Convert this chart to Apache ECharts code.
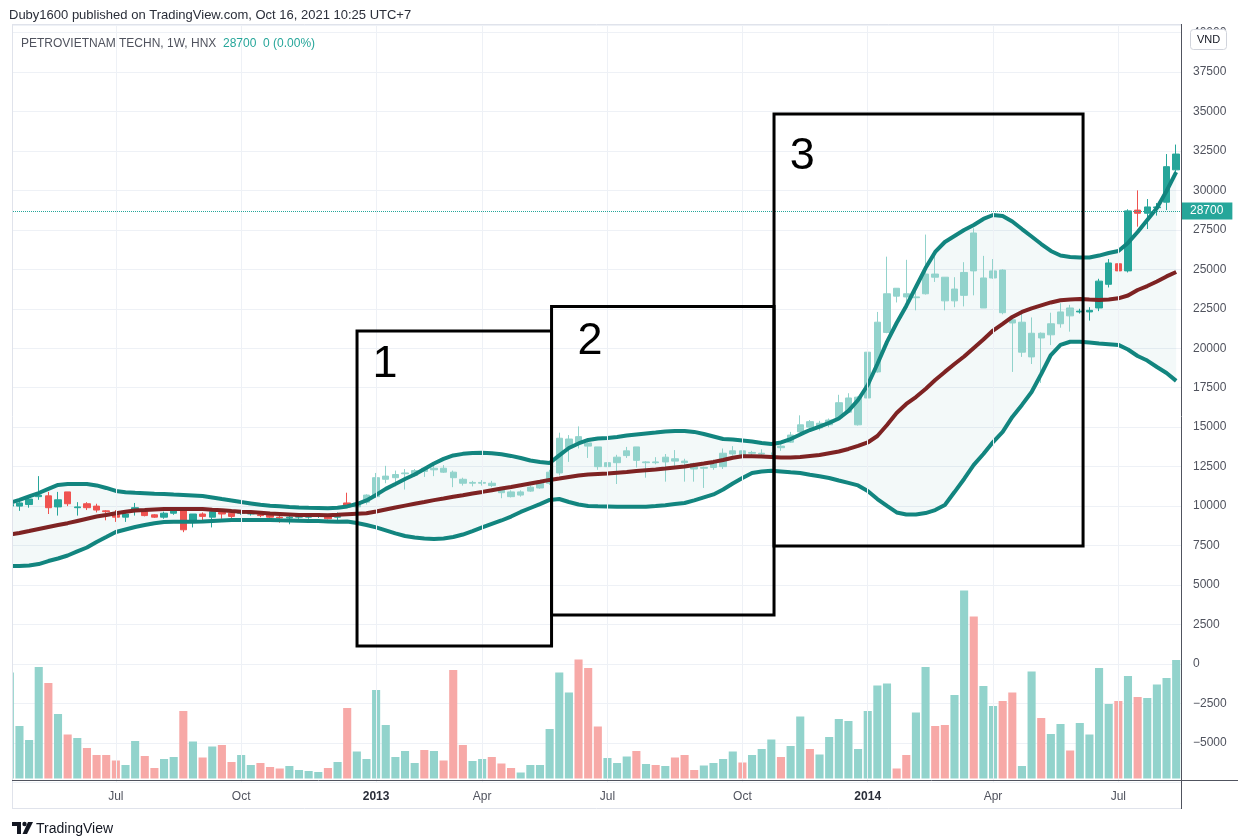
<!DOCTYPE html>
<html><head><meta charset="utf-8">
<script src="https://cdn.jsdelivr.net/npm/echarts@6/dist/echarts.min.js"></script>
<style>html,body{margin:0;padding:0;background:#fff}#c{width:1238px;height:838px}</style>
</head><body><div id="c"></div>
<script>
// ---------------- data ----------------
const firstWeek = '2012-04-16';
const closedWeeks = ['2013-02-11'];
const opens = [10000,10000,10100,10600,10650,9950,10900,9900,10150,10000, 9700,9450,9300,9700,9650,9450,9300,9550,9700,9100, 9500,9300,9600,9550,9550,9500,9450,9450,9300,9250, 9300,9300,9350,9400,9300,10200,9950,10250,10600,11700, 11800,12050,11950,12400,12300,12400,12150,11700,11450,11450, 11450,11100,10900,10700,10950,11150,11450,12100,13700,14400, 14000,13750,12500,12750,13200,13750,12750,12800,12800,13000, 12850,12700,12400,12450,12500,13300,13500,13350,13300,13100, 13800,14050,14700,15350,14950,15150,15600,15950,15150,16850, 18500,21000,23800,23450,23200,23450,24700,24500,23000,23350, 27300,22550,24450,24950,21800,19750,19450,20950,20850,21550, 22550,22300,22300,22550,24050,25350,24900,28750,28550,28900, 29250,31300];
const highs = [10200,10300,10550,11900,10900,10900,10900,10250,10250,10150, 9750,9750,9550,10200,9700,9500,9650,9800,9900,9500, 9600,9750,9700,9600,9700,9650,9550,9500,9450,9400, 9450,9450,9450,9450,9600,10850,10400,10750,12100,12550, 12250,12350,12350,12450,12550,12600,12250,11800,11600,11650, 11600,11100,11000,11000,11300,11550,12300,14650,14500,15050, 14050,13750,12950,13250,13750,13750,12850,13100,13300,13550, 13000,12750,12500,12950,13650,13800,13700,13500,13600,13400, 13900,14700,15750,15450,15400,15550,17050,17150,16950,20200, 22300,25800,23800,25600,23850,27200,26000,24500,24500,25450, 27600,25850,25650,25000,21900,22300,21950,21000,22250,22850, 22750,22500,22600,24400,25650,26000,28800,30000,29450,29200, 32300,32900];
const lows = [9800,9700,9900,10400,9500,9400,10000,9400,9750,9600, 9100,9000,9000,9400,9350,9250,9200,9450,8350,8650, 9100,8650,9200,9250,9450,9400,9300,9250,8950,8850, 9200,9200,9250,9150,9000,9950,9900,10100,10550,11450, 11250,11050,11850,11850,11900,12100,11200,11300,11250,11300, 11200,10500,10550,10600,10900,11100,11350,11950,12800,13650, 13050,12300,11550,11400,13050,12450,11800,12650,11550,12550, 11550,11550,11150,12300,12350,13200,13100,13200,13200,13000, 13500,14000,14700,14850,14800,15000,15450,15900,15100,16700, 18450,20950,22900,22900,22400,23400,24200,22400,22600,22650, 23350,22550,24400,22150,18500,19450,19000,17800,20200,21300, 21050,22200,21750,22350,23850,22350,24800,27700,27550,28400, 28750,31150];
const closes = [10100,10200,10450,10700,9900,10400,10150,9950,9900,9750, 9650,9300,9500,9900,9400,9300,9550,9700,8500,9500, 9350,9650,9500,9350,9600,9550,9400,9300,9250,9300, 9350,9350,9400,9200,9350,9950,10200,10700,11800,11900, 12000,12100,12250,12200,12400,12150,11800,11450,11500,11500, 11300,10850,10600,10900,11200,11450,12150,14300,14250,14000, 13800,12500,12750,13100,13500,12900,12800,12750,13100,12850, 12750,12350,12450,12800,13350,13500,13250,13400,13350,13200, 13700,14500,15150,15000,15250,15450,16550,16850,16900,19750, 21650,23450,23300,23250,23250,24700,24500,23000,23750,24800, 24900,24450,24900,22250,21600,21650,20950,20650,21550,22300, 22050,22350,22400,24250,25400,24900,28700,28550,28950,28950, 31500,32300];
const volumes = [2120,1050,770,2230,1910,1290,880,810,610,470, 470,360,270,750,450,210,390,430,1350,740, 420,640,670,330,470,270,310,230,200,250, 170,150,130,210,330,1410,540,390,1770,1070, 430,550,310,570,550,360,2170,670,350,390, 430,300,210,120,270,270,990,2120,1720,2380, 2210,1040,410,310,440,550,290,270,250,420, 470,170,260,310,390,540,320,470,590,780, 430,650,1240,590,480,830,1190,1150,590,1350, 1860,1900,200,470,1320,2230,1050,1070,1670,3760, 3240,1850,1450,1550,1720,250,2140,1210,890,1090, 560,1110,880,2210,1490,1550,2050,1630,1610,1880, 2010,2370];
const bbUpper = [10200,10390,10610,10830,11090,11340,11400,11400,11400,11310, 11150,10960,10880,10840,10810,10780,10760,10730,10710,10680, 10640,10550,10450,10360,10260,10170,10080,10030,9990,9940, 9910,9890,9880,9870,9890,9980,10130,10360,10710,11090, 11400,11720,12000,12350,12700,12990,13210,13310,13370,13380, 13350,13290,13180,13050,12890,12800,12730,13210,13680,13970, 14190,14280,14310,14380,14470,14540,14600,14660,14730,14760, 14760,14700,14570,14410,14250,14220,14160,14090,14000,13940, 14030,14250,14540,14820,15040,15270,15550,16030,16720,17670, 19000,20400,21600,22680,23880,25080,26100,26730,27110,27490, 27810,28190,28440,28380,28030,27550,27080,26600,26160,25870, 25780,25750,25750,25870,26030,26160,26670,27360,28120,28880, 29960,31160];
const bbBasis = [8200,8300,8420,8550,8680,8800,8920,9060,9200,9340, 9440,9550,9640,9720,9750,9790,9810,9820,9820,9820, 9810,9770,9740,9690,9650,9620,9580,9530,9500,9470, 9440,9430,9430,9420,9450,9490,9520,9550,9660,9790, 9910,10030,10150,10260,10380,10480,10590,10690,10800,10900, 11010,11110,11210,11320,11430,11540,11660,11750,11850,11940, 12000,12040,12070,12120,12160,12220,12270,12320,12380,12450, 12510,12610,12700,12800,12920,13060,13160,13160,13140,13110, 13080,13080,13110,13180,13240,13350,13460,13620,13810,14030, 14440,15140,15900,16470,16910,17420,17990,18500,19000,19480, 20020,20550,21120,21540,21980,22300,22520,22710,22900,23040, 23090,23120,23080,23060,23090,23160,23340,23690,23940,24230, 24550,24830];
const bbLower = [6210,6210,6240,6330,6520,6680,6870,7130,7380,7730, 8040,8360,8520,8680,8800,8910,8990,9010,9010,9010, 9030,9060,9090,9120,9120,9120,9120,9120,9100,9090, 9080,9060,9050,9030,9010,9030,8930,8800,8650,8460, 8270,8110,8010,7950,7920,7950,8040,8200,8420,8650, 8870,9090,9340,9630,9880,10130,10390,10450,10260,10100, 10010,9990,9980,9960,9960,9960,9960,10000,10060,10130, 10200,10360,10550,10740,11050,11430,11780,12100,12190,12240, 12190,12140,12100,11990,11890,11780,11620,11470,11310,10960, 10450,10010,9600,9470,9470,9560,9750,10070,10890,11720, 12610,13300,14060,14700,15650,16410,17230,18370,19570,20210, 20410,20410,20360,20300,20260,20210,19920,19510,19220,18810, 18430,17930];
const priceMin = -7500, priceMax = 40474, priceStep = 2500;
const lastPrice = 28700;
const quarterNames = {'04':'Apr','07':'Jul','10':'Oct'};
// annotation rectangles in (bar index, price) coordinates
const boxes = [
  {x0:36.02, x1:56.2,  top:21090, bottom:1140},
  {x0:56.2,  x1:79.28, top:22650, bottom:3100},
  {x0:79.28, x1:111.34, top:34840, bottom:7470}
];
const boxLabels = [
  {text:'1', x:38.92, y:18940},
  {text:'2', x:60.19, y:20400},
  {text:'3', x:82.2,  y:32110}
];

// ---------------- styling ----------------
const FONT = "'Liberation Sans', Arial, sans-serif";
const UP = '#26a69a', DOWN = '#ef5350';
const UP_F = '#92d3cc', DOWN_F = '#f7a9a7';
const BAND = '#12857f', BASIS = '#7e2323';
const GRID = '#eef1f6';
const fadeFrom = 36, fadeTo = 110;

// categories: weekly bars
const dates = (() => {
  const out = []; let t = Date.parse(firstWeek);
  while (out.length < opens.length) {
    const s = new Date(t).toISOString().slice(0, 10);
    if (!closedWeeks.includes(s)) out.push(s);
    t += 7 * 864e5;
  }
  return out;
})();
const isQuarterStart = i => i > 0 && dates[i].slice(5,7) !== dates[i-1].slice(5,7) && ['01','04','07','10'].includes(dates[i].slice(5,7));
const labelIdx = dates.map((d,i)=>i).filter(isQuarterStart);

const candleData = opens.map((o,i) => {
  const item = {value:[o, closes[i], lows[i], highs[i]]};
  if (i >= fadeFrom && i <= fadeTo) item.itemStyle = {color:UP_F, color0:DOWN_F, borderColor:UP_F, borderColor0:DOWN_F};
  return item;
});
const volData = volumes.map((v,i) => ({value:v, itemStyle:{color: closes[i] >= opens[i] ? UP_F : DOWN_F}}));
const bandWidth = bbUpper.map((u,i) => u - bbLower[i]);

const chart = echarts.init(document.getElementById('c'), null, {renderer:'canvas'});
const gridTop = 25, gridH = 757.4;
chart.setOption({
  animation:false,
  backgroundColor:'#ffffff',
  grid:{left:5, right:57, top:gridTop, height:gridH, containLabel:false},
  xAxis:{type:'category', data:dates, boundaryGap:true,
    axisLine:{show:false}, axisTick:{show:false}, splitLine:{show:false},
    axisLabel:{interval:(i)=>isQuarterStart(i), margin:8, color:'#50535e', fontSize:12, fontFamily:FONT,
      formatter:(v,i)=>{ const m = v.slice(5,7); return m === '01' ? '{y|' + v.slice(0,4) + '}' : quarterNames[m]; },
      rich:{y:{fontWeight:'bold', color:'#2a2e39', fontSize:12, fontFamily:FONT}}}},
  yAxis:[
    {type:'value', position:'right', min:priceMin, max:priceMax, interval:priceStep,
      axisLine:{show:false}, axisTick:{show:false},
      axisLabel:{showMinLabel:false, showMaxLabel:false, margin:12, color:'#50535e', fontSize:12, fontFamily:FONT,
        formatter:v => v < 0 ? '\u2212' + (-v) : String(v)},
      splitLine:{lineStyle:{color:GRID, width:1}}},
    {type:'value', min:-78, max:15070, show:false, splitLine:{show:false}}
  ],
  series:[
    {type:'line', data:closes, symbol:'none', lineStyle:{opacity:0}, silent:true, z:0,
      markLine:{silent:true, symbol:['none','none'], label:{show:false}, animation:false,
        lineStyle:{color:GRID, width:1, type:'solid'},
        data:labelIdx.map(i=>({xAxis:dates[i]}))}},
    {type:'line', data:bbLower, stack:'bb', symbol:'none', lineStyle:{opacity:0}, silent:true, z:1},
    {type:'line', data:bandWidth, stack:'bb', symbol:'none', lineStyle:{opacity:0}, silent:true, z:1,
      areaStyle:{color:'rgba(20,140,135,0.075)'}},
    {type:'bar', yAxisIndex:1, data:volData, barWidth:'84%', silent:true, z:1},
    {type:'candlestick', data:candleData, barWidth:'72%', silent:true, z:3,
      itemStyle:{color:UP, color0:DOWN, borderColor:UP, borderColor0:DOWN, borderWidth:1},
      markLine:{silent:true, symbol:['none','none'], animation:false,
        lineStyle:{color:UP, width:1, type:'dotted'},
        label:{show:true, position:'end', distance:1, formatter:()=>String(lastPrice), color:'#fff',
          backgroundColor:UP, padding:[3,9,2,8], fontSize:12, fontFamily:FONT},
        data:[{yAxis:lastPrice}]}},
    {type:'line', data:bbUpper, symbol:'none', silent:true, z:4, lineStyle:{color:BAND, width:4}},
    {type:'line', data:bbLower, symbol:'none', silent:true, z:4, lineStyle:{color:BAND, width:4}},
    {type:'line', data:bbBasis, symbol:'none', silent:true, z:4, lineStyle:{color:BASIS, width:4}},
    {type:'custom', silent:true, z:10, clip:false,
      data:boxes.map((b,i)=>[Math.floor(b.x0), b.top]),
      encode:{x:0, y:1},
      renderItem:(params, api) => {
        const bw = api.size([1,0])[0];
        const px = v => api.coord([Math.floor(v), 0])[0] + (v - Math.floor(v)) * bw;
        const py = p => api.coord([0, p])[1];
        const b = boxes[params.dataIndex];
        const L = boxLabels[params.dataIndex];
        return {type:'group', children:[
          {type:'rect', shape:{x:px(b.x0), y:py(b.top), width:px(b.x1)-px(b.x0), height:py(b.bottom)-py(b.top)},
            style:{fill:'none', stroke:'#000', lineWidth:3}},
          {type:'text', x:px(L.x), y:py(L.y),
            style:{text:L.text, fill:'#000', font:'45px ' + FONT, textAlign:'center', textVerticalAlign:'middle'}}
        ]};
      }}
  ],
  graphic:[
    {type:'rect', z:100, shape:{x:0, y:24, width:12, height:762}, style:{fill:'#fff'}},
    {type:'line', z:101, shape:{x1:12.5, y1:24, x2:12.5, y2:809}, style:{stroke:'#e0e3eb', lineWidth:1}},
    {type:'line', z:101, shape:{x1:12, y1:24.5, x2:1181, y2:24.5}, style:{stroke:'#e0e3eb', lineWidth:1}},
    {type:'line', z:101, shape:{x1:12, y1:808.5, x2:1181, y2:808.5}, style:{stroke:'#e0e3eb', lineWidth:1}},
    {type:'line', z:101, shape:{x1:12, y1:780.5, x2:1238, y2:780.5}, style:{stroke:'#50535e', lineWidth:1}},
    {type:'line', z:101, shape:{x1:1181.5, y1:24, x2:1181.5, y2:809}, style:{stroke:'#50535e', lineWidth:1}},
    {type:'text', z:101, x:9, y:15, style:{text:'Duby1600 published on TradingView.com, Oct 16, 2021 10:25 UTC+7', fill:'#2a2e39', font:'13px ' + FONT, textVerticalAlign:'middle'}},
    {type:'text', z:101, x:21, y:44, style:{
      text:'{a|PETROVIETNAM TECHN, 1W, HNX}  {b|' + lastPrice + '}  {b|0 (0.00%)}',
      textVerticalAlign:'middle',
      rich:{a:{fill:'#50535e', font:'12px ' + FONT}, b:{fill:UP, font:'12px ' + FONT}}}},
    {type:'rect', z:101, shape:{x:1190.5, y:29.5, width:36, height:20, r:3}, style:{fill:'#fff', stroke:'#d1d4dc', lineWidth:1}},
    {type:'text', z:102, x:1208.5, y:40, style:{text:'VND', fill:'#131722', font:'11px ' + FONT, textAlign:'center', textVerticalAlign:'middle'}},
    {type:'polygon', z:101, shape:{points:[[12,822],[21,822],[21,834],[17,834],[17,826],[12,826]]}, style:{fill:'#131722'}},
    {type:'circle', z:101, shape:{cx:24.5, cy:824, r:2.2}, style:{fill:'#131722'}},
    {type:'polygon', z:101, shape:{points:[[28,822],[33,822],[27,834],[22.5,834]]}, style:{fill:'#131722'}},
    {type:'text', z:101, x:36, y:829, style:{text:'TradingView', fill:'#131722', font:'14px ' + FONT, textVerticalAlign:'middle'}}
  ]
});
</script></body></html>
